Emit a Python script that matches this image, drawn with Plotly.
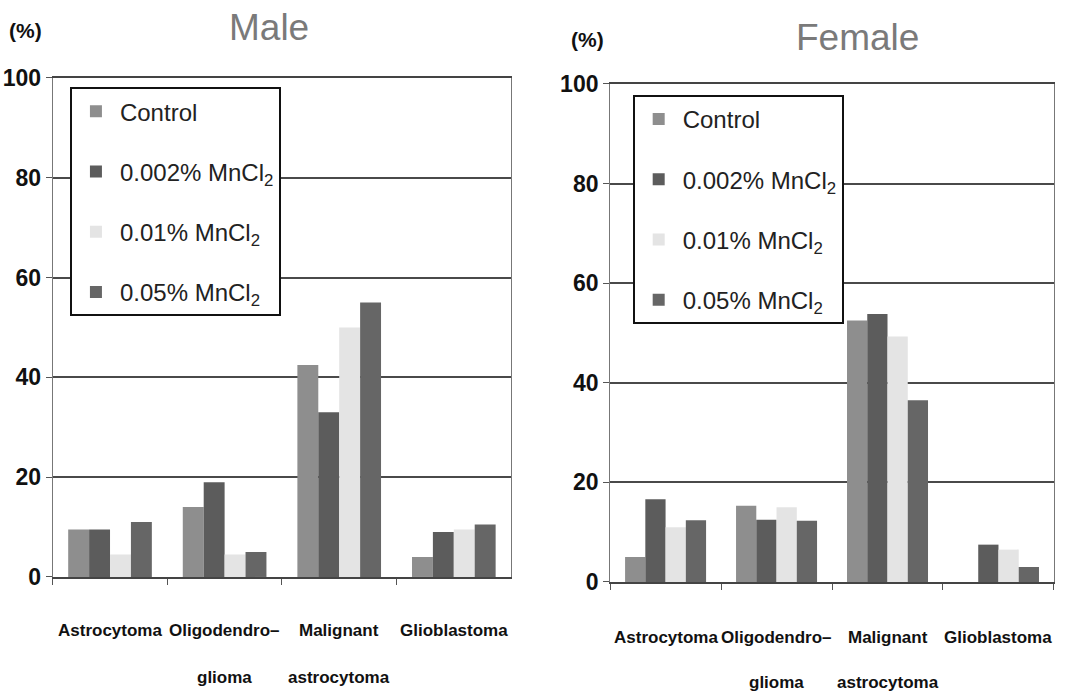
import plotly.graph_objects as go

# Tumour categories (x axis) and their two-line labels
categories = ["Astrocytoma", "Oligodendroglioma", "Malignant astrocytoma", "Glioblastoma"]
label_line1 = ["Astrocytoma", "Oligodendro\u2013", "Malignant", "Glioblastoma"]
label_line2 = ["", "glioma", "astrocytoma", ""]

# Treatment groups
groups = ["Control", "0.002% MnCl<sub>2</sub>", "0.01% MnCl<sub>2</sub>", "0.05% MnCl<sub>2</sub>"]
group_colors = ["#8e8e8e", "#5c5c5c", "#e4e4e4", "#666666"]

# Incidence (%) per category, male rats
male_control = [9.5, 14.0, 42.5, 4.0]
male_002 = [9.5, 19.0, 33.0, 9.0]
male_01 = [4.5, 4.5, 50.0, 9.5]
male_05 = [11.0, 5.0, 55.0, 10.5]

# Incidence (%) per category, female rats
female_control = [5.0, 15.3, 52.5, 0.0]
female_002 = [16.6, 12.5, 53.8, 7.5]
female_01 = [11.0, 15.0, 49.3, 6.5]
female_05 = [12.4, 12.3, 36.5, 3.0]

y_ticks = [0, 20, 40, 60, 80, 100]

male_series = [male_control, male_002, male_01, male_05]
female_series = [female_control, female_002, female_01, female_05]

BOLD = "Liberation Sans, Arial, sans-serif"
SANS = "Liberation Sans, Arial, sans-serif"

fig = go.Figure()

for i, (name, color) in enumerate(zip(groups, group_colors)):
    fig.add_trace(go.Bar(
        x=categories, y=male_series[i], name=name,
        marker=dict(color=color, line=dict(width=0)),
        xaxis="x", yaxis="y", legend="legend", legendgroup=f"m{i}",
    ))
for i, (name, color) in enumerate(zip(groups, group_colors)):
    fig.add_trace(go.Bar(
        x=categories, y=female_series[i], name=name,
        marker=dict(color=color, line=dict(width=0)),
        xaxis="x2", yaxis="y2", legend="legend2", legendgroup=f"f{i}",
    ))

axis_common_x = dict(
    type="category", showgrid=False, showticklabels=False, automargin=False,
    ticks="outside", tickson="boundaries", ticklen=6, tickcolor="#555",
    showline=True, linecolor="#444", linewidth=1.5, mirror=True,
)
axis_common_y = dict(
    range=[0, 100], tickvals=y_ticks, ticks="outside", ticklen=6, tickcolor="#555",
    showgrid=True, gridcolor="#4a4a4a", gridwidth=1.5, automargin=False,
    showline=True, linecolor="#777", linewidth=1, mirror=True,
    tickfont=dict(family=BOLD, size=23, color="#111", weight="bold"),
    zeroline=False,
)

legend_common = dict(
    bgcolor="white", bordercolor="#111", borderwidth=2,
    font=dict(family=SANS, size=24, color="#222"),
    tracegroupgap=26, xanchor="left", yanchor="top",
    itemwidth=38, itemclick=False,
)

fig.update_layout(
    width=1076, height=698,
    margin=dict(l=0, r=0, t=0, b=0, autoexpand=False),
    paper_bgcolor="white", plot_bgcolor="white",
    barmode="group", bargap=0.27, bargroupgap=0,
    xaxis=dict(domain=[0.049, 0.475], anchor="y", **axis_common_x),
    yaxis=dict(domain=[0.1734, 0.8883], anchor="x", **axis_common_y),
    xaxis2=dict(domain=[0.567, 0.980], anchor="y2", **axis_common_x),
    yaxis2=dict(domain=[0.1662, 0.8797], anchor="x2", **axis_common_y),
    legend=dict(x=0.065, y=0.875, **legend_common),
    legend2=dict(x=0.588, y=0.864, **legend_common),
    showlegend=True,
)

annotations = []
# Panel titles and unit labels
annotations.append(dict(text="Male", x=0.25, y=0.96, xref="paper", yref="paper",
                        showarrow=False, xanchor="center", yanchor="middle",
                        font=dict(family=SANS, size=37, color="#7a7a7a")))
annotations.append(dict(text="Female", x=0.797, y=0.9456, xref="paper", yref="paper",
                        showarrow=False, xanchor="center", yanchor="middle",
                        font=dict(family=SANS, size=37, color="#7a7a7a")))
for xp, yp in [(0.024, 0.957), (0.546, 0.943)]:
    annotations.append(dict(text="(%)", x=xp, y=yp, xref="paper", yref="paper",
                            showarrow=False, xanchor="center", yanchor="middle",
                            font=dict(family=BOLD, size=21, color="#111", weight="bold")))

# Category labels under each panel
for xref, y1, y2 in [("x", 0.0974, 0.0287), ("x2", 0.086, 0.0215)]:
    for cat, l1, l2 in zip(categories, label_line1, label_line2):
        annotations.append(dict(text=l1, x=cat, xref=xref, y=y1, yref="paper",
                                showarrow=False, xanchor="center", yanchor="middle",
                                font=dict(family=BOLD, size=17, color="#111", weight="bold")))
        if l2:
            annotations.append(dict(text=l2, x=cat, xref=xref, y=y2, yref="paper",
                                    showarrow=False, xanchor="center", yanchor="middle",
                                    font=dict(family=BOLD, size=17, color="#111", weight="bold")))

fig.update_layout(annotations=annotations)

fig.write_html("out.html")
